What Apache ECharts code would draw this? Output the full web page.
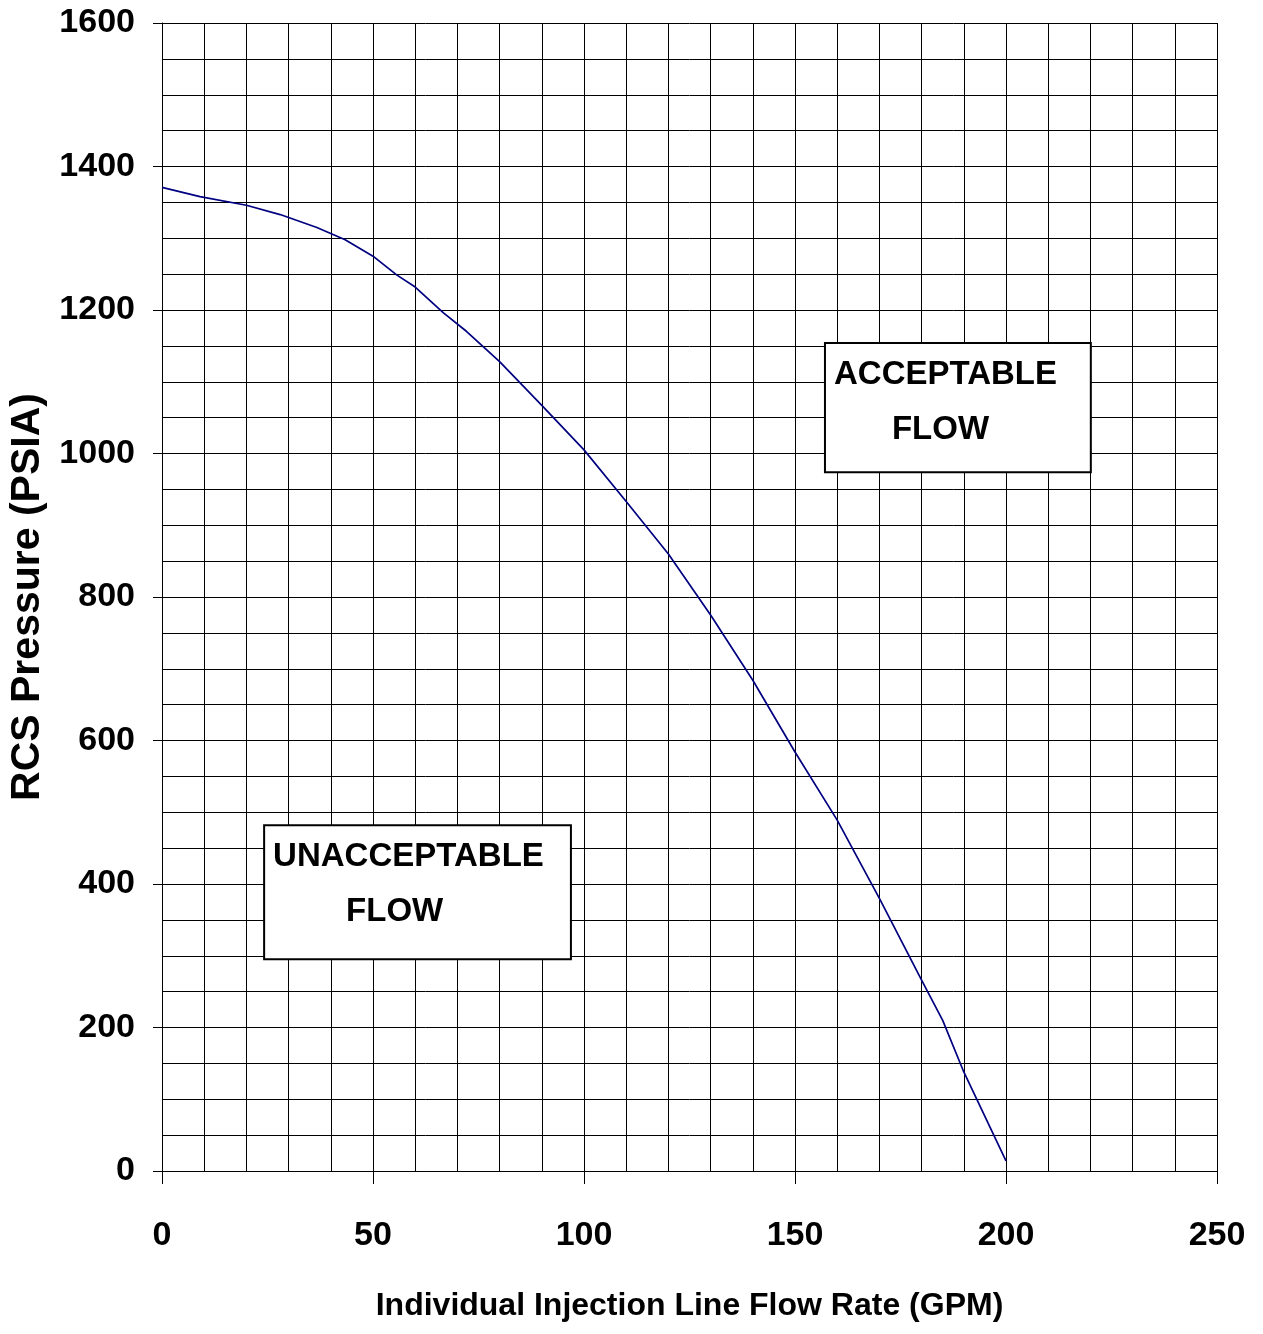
<!DOCTYPE html>
<html><head><meta charset="utf-8">
<script src="https://cdn.jsdelivr.net/npm/echarts@6/dist/echarts.min.js"></script>
<style>html,body{margin:0;padding:0;background:#fff}#c{width:1263px;height:1334px}</style>
</head><body><div id="c"></div>
<script>
// ---- data ----
const flowGPM = [0, 9, 20, 28, 36.7, 43.4, 50, 55.6, 60, 66.7, 72.2, 80, 90, 100, 110, 120, 130, 140, 150, 160, 170, 180, 185, 190, 200];
const pressurePSIA = [1371, 1358, 1346, 1333, 1315, 1298, 1275, 1249, 1232, 1196, 1170, 1128, 1067, 1005, 933, 860, 775, 684, 584, 489, 380, 266, 210, 138, 14];
const xTickValues = [0, 50, 100, 150, 200, 250];
const yTickValues = [0, 200, 400, 600, 800, 1000, 1200, 1400, 1600];
const xTitle = 'Individual Injection Line Flow Rate (GPM)';
const yTitle = 'RCS Pressure (PSIA)';
const acceptableText = ['ACCEPTABLE', 'FLOW'];
const unacceptableText = ['UNACCEPTABLE', 'FLOW'];

const FONT = "'Liberation Sans',Arial,Helvetica,sans-serif";

const chart = echarts.init(document.getElementById('c'), null, {renderer: 'canvas'});

function boxLabel(lines, indent) {
  return {
    show: true,
    position: 'insideTopLeft',
    distance: 0,
    padding: [5, 0, 0, 10],
    align: 'left',
    formatter: '{a|' + lines[0] + '}\n{b|' + lines[1] + '}',
    rich: {
      a: {fontFamily: FONT, fontWeight: 'bold', fontSize: 33, lineHeight: 55, color: '#000'},
      b: {fontFamily: FONT, fontWeight: 'bold', fontSize: 33, lineHeight: 55, color: '#000', padding: [0, 0, 0, indent]}
    }
  };
}

const option = {
  backgroundColor: '#fff',
  animation: false,
  grid: {left: 162, right: 46, top: 23, bottom: 163, containLabel: false, outerBoundsMode: 'none'},
  xAxis: {
    type: 'value', min: 0, max: 250, interval: 50,
    name: xTitle, nameLocation: 'middle', nameGap: 119,
    nameTextStyle: {fontFamily: FONT, fontWeight: 'bold', fontSize: 32, color: '#000'},
    axisLine: {show: true, onZero: false, lineStyle: {color: '#000', width: 1}},
    axisTick: {show: true, length: 13, lineStyle: {color: '#000'}},
    axisLabel: {
      margin: 48, fontFamily: FONT, fontWeight: 'bold', fontSize: 34, color: '#000',
      formatter: v => xTickValues.indexOf(v) >= 0 ? String(v) : ''
    },
    splitLine: {show: true, lineStyle: {color: '#000', width: 1}},
    minorTick: {show: false, splitNumber: 5},
    minorSplitLine: {show: true, lineStyle: {color: '#000', width: 1}}
  },
  yAxis: {
    type: 'value', min: 0, max: 1600, interval: 200,
    name: yTitle, nameLocation: 'middle', nameGap: 113, nameRotate: 90,
    nameTextStyle: {fontFamily: FONT, fontWeight: 'bold', fontSize: 41, color: '#000'},
    axisLine: {show: true, onZero: false, lineStyle: {color: '#000', width: 1}},
    axisTick: {show: true, length: 9, lineStyle: {color: '#000'}},
    axisLabel: {
      margin: 27, fontFamily: FONT, fontWeight: 'bold', fontSize: 34, color: '#000',
      formatter: v => yTickValues.indexOf(v) >= 0 ? String(v) : ''
    },
    splitLine: {show: true, lineStyle: {color: '#000', width: 1}},
    minorTick: {show: false, splitNumber: 4},
    minorSplitLine: {show: true, lineStyle: {color: '#000', width: 1}}
  },
  series: [{
    type: 'line',
    data: flowGPM.map((x, i) => [x, pressurePSIA[i]]),
    showSymbol: false,
    symbol: 'none',
    lineStyle: {color: '#000080', width: 1.7},
    z: 5,
    markArea: {
      silent: true,
      itemStyle: {color: '#fff', borderColor: '#000', borderWidth: 2},
      data: [
        [{coord: [157.1, 1154], label: boxLabel(acceptableText, 58)}, {coord: [220.1, 974]}],
        [{coord: [24.2, 482], label: boxLabel(unacceptableText, 73)}, {coord: [96.9, 295]}]
      ]
    }
  }]
};
chart.setOption(option);
</script>
</body></html>
